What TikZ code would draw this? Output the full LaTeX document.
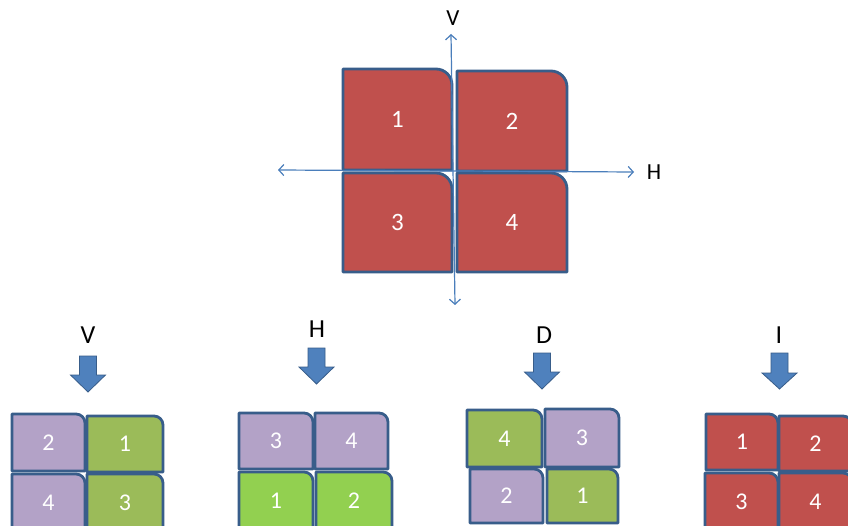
\documentclass[tikz,border=0pt]{standalone}
\usepackage{fontspec}
\setmainfont{Carlito}
\usetikzlibrary{arrows.meta}
\definecolor{tred}{HTML}{C0504D}
\definecolor{tpurple}{HTML}{B3A2C7}
\definecolor{tgreen}{HTML}{9BBB59}
\definecolor{tlime}{HTML}{92D050}
\definecolor{tborder}{HTML}{385D8A}
\definecolor{taxis}{HTML}{4A7EBB}
\definecolor{tarrow}{HTML}{4F81BD}
\tikzset{
  tileborder/.style={draw=tborder, line width=2.8pt, line join=round},
  tilelabel/.style={text=white, inner sep=0pt, font=\fontsize{24}{28}\selectfont},
  biglabel/.style={text=white, inner sep=0pt, font=\fontsize{25}{29}\selectfont},
  toplbl/.style={text=black, inner sep=0pt, font=\fontsize{23}{27}\selectfont},
  lbl/.style={text=black, inner sep=0pt, font=\fontsize{26}{30}\selectfont},
  axisline/.style={draw=taxis, line width=1.2pt, {Straight Barb[length=5pt,width=11pt]}-{Straight Barb[length=5pt,width=11pt]}},
  barrow/.style={fill=tarrow, draw=tborder, line width=0.8pt, line join=miter}
}
\newcommand\qtile[9]{%
  \filldraw[tileborder, fill=#6] (#2,#5) -- (#2,#3) -- ({#4-#8},#3) .. controls ({#4-0.45*#8},#3) and (#4,{#3+0.45*#8}) .. (#4,{#3+#8}) -- (#4,#5) -- cycle;
  \node[#9] (#1) at ({(#2+#4)/2},{(#3+#5)/2}) {#7};
}
\newcommand\blockarrow[4]{%
  \filldraw[barrow] ({#1-8.5},#2) -- ({#1+8.5},#2) -- ({#1+8.5},#3) -- ({#1+17.5},#3) -- (#1,#4) -- ({#1-17.5},#3) -- ({#1-8.5},#3) -- cycle;
}
\begin{document}
\begin{tikzpicture}[x=1pt,y=-1pt]
\clip (0,0) rectangle (848,526);
\fill[white] (0,0) rectangle (848,526);
% top figure
\qtile{t1}{343}{69}{452}{170}{tred}{1}{16}{biglabel}
\qtile{t2}{457}{71}{567}{171}{tred}{2}{16}{biglabel}
\qtile{t3}{343}{173}{452}{272}{tred}{3}{16}{biglabel}
\qtile{t4}{457}{173}{567}{272}{tred}{4}{16}{biglabel}
\coordinate (vtop) at (451,34);
\coordinate (vbot) at (455,305);
\coordinate (hleft) at (278,170);
\coordinate (hright) at (634,172);
\draw[axisline] (vbot) -- (vtop);
\draw[axisline] (hleft) -- (hright);
\node[toplbl] (axV) at (453,18) {V};
\node[toplbl] (axH) at (654,172) {H};
% V group
\node[lbl] (gV) at (88,335) {V};
\blockarrow{88}{356}{375}{392}
\qtile{v2}{12}{414}{85}{471}{tpurple}{2}{9}{tilelabel}
\qtile{v1}{87}{416}{163}{472}{tgreen}{1}{9}{tilelabel}
\qtile{v4}{12}{474}{85}{531}{tpurple}{4}{9}{tilelabel}
\qtile{v3}{87}{474}{163}{531}{tgreen}{3}{9}{tilelabel}
% H group
\node[lbl] (gH) at (317,329) {H};
\blockarrow{316.5}{348}{367}{384}
\qtile{h3}{239}{413}{313}{469}{tpurple}{3}{9}{tilelabel}
\qtile{h4}{315}{413}{388}{469}{tpurple}{4}{9}{tilelabel}
\qtile{h1}{239}{472}{313}{530}{tlime}{1}{9}{tilelabel}
\qtile{h2}{316}{472}{392}{530}{tlime}{2}{9}{tilelabel}
% D group
\node[lbl] (gD) at (544,335) {D};
\blockarrow{542}{353}{372}{389}
\qtile{d4}{467}{410}{542}{467}{tgreen}{4}{9}{tilelabel}
\qtile{d3}{545}{409}{619}{467}{tpurple}{3}{9}{tilelabel}
\qtile{d2}{470}{469}{543}{523}{tpurple}{2}{9}{tilelabel}
\qtile{d1}{547}{469}{618}{523}{tgreen}{1}{9}{tilelabel}
% I group
\node[lbl] (gI) at (779,335) {I};
\blockarrow{779.5}{353}{373}{389}
\qtile{i1}{706}{414}{778}{470}{tred}{1}{9}{tilelabel}
\qtile{i2}{779}{416}{852}{471}{tred}{2}{9}{tilelabel}
\qtile{i3}{705}{473}{778}{530}{tred}{3}{9}{tilelabel}
\qtile{i4}{779}{473}{852}{530}{tred}{4}{9}{tilelabel}
\end{tikzpicture}
\end{document}
